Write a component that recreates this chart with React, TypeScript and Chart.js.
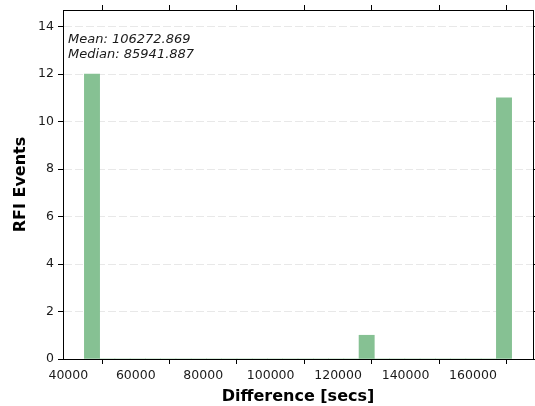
import { useEffect, useRef } from "react";
import { Chart, registerables } from "chart.js";

Chart.register(...registerables);

// Histogram bin edges (seconds) and counts per bin
const binEdges = [
  44750, 49276, 53801, 58327, 62852, 67378, 71903, 76429, 80954, 85480, 90005,
  94531, 99056, 103582, 108107, 112633, 117158, 121684, 126209, 130735, 135260,
  139786, 144311, 148837, 153362, 157888, 162413, 166939, 171464,
];
const binCounts = [
  12, 0, 0, 0, 0, 0, 0, 0, 0, 0, 0, 0, 0, 0, 0, 0, 0, 0, 1, 0, 0, 0, 0, 0, 0, 0,
  0, 11,
];

const xTicks = [40000, 60000, 80000, 100000, 120000, 140000, 160000];
const yTicks = [0, 2, 4, 6, 8, 10, 12, 14];
const xRange = [38414, 177801];
const yRange = [0, 14.7];

const xTitle = "Difference [secs]";
const yTitle = "RFI Events";
const statLines = ["Mean: 106272.869", "Median: 85941.887"];

const FONT = "'DejaVu Sans', sans-serif";

const statsPlugin = {
  id: "statsText",
  afterDraw(chart: any) {
    const { ctx, chartArea } = chart;
    ctx.save();
    ctx.font = `italic 13px ${FONT}`;
    ctx.fillStyle = "#1a1a1a";
    ctx.textBaseline = "middle";
    ctx.textAlign = "left";
    statLines.forEach((t, i) => {
      ctx.fillText(t, chartArea.left + 5, chartArea.top + 29.5 + i * 15);
    });
    ctx.restore();
  },
};

export default function App() {
  const ref = useRef<HTMLCanvasElement>(null);

  useEffect(() => {
    document.body.style.margin = "0";
    const canvas = ref.current!;
    const data = binCounts.map((c, i) => ({
      x: (binEdges[i] + binEdges[i + 1]) / 2,
      y: c,
    }));
    const setXTicks = (s: any) => {
      s.ticks = xTicks.map((v) => ({ value: v }));
    };
    const setYTicks = (s: any) => {
      s.ticks = yTicks.map((v) => ({ value: v }));
    };
    const chart = new Chart(canvas, {
      type: "bar",
      data: {
        datasets: [
          {
            data,
            xAxisID: "x",
            yAxisID: "y",
            backgroundColor: "rgb(134,193,147)",
            borderWidth: 0,
            categoryPercentage: 1,
            barPercentage: 1,
          },
        ],
      },
      options: {
        animation: false,
        responsive: false,
        devicePixelRatio: 1,
        layout: { padding: 0 },
        plugins: {
          legend: { display: false },
          tooltip: { enabled: false },
        },
        scales: {
          x: {
            type: "linear",
            position: "bottom",
            min: xRange[0],
            max: xRange[1],
            offset: false,
            z: 1,
            afterBuildTicks: setXTicks,
            afterFit: (s: any) => {
              s.height = 47;
              s.paddingLeft = 0;
              s.paddingRight = 0;
            },
            ticks: {
              font: { family: FONT, size: 12.5 },
              color: "#1a1a1a",
              padding: 4,
              maxRotation: 0,
              autoSkip: false,
              callback: (v: any) => String(v),
            },
            grid: {
              drawOnChartArea: false,
              drawTicks: true,
              tickLength: 5,
              tickColor: "#000",
              tickWidth: 1,
            },
            border: { display: true, color: "#000", width: 1 },
            title: {
              display: true,
              text: xTitle,
              font: { family: FONT, size: 16, weight: "bold" },
              color: "#000",
              padding: { top: 0, bottom: 0 },
            },
          },
          x2: {
            type: "linear",
            position: "top",
            min: xRange[0],
            max: xRange[1],
            offset: false,
            afterBuildTicks: setXTicks,
            afterFit: (s: any) => {
              s.height = 10;
            },
            ticks: { display: false },
            grid: {
              drawOnChartArea: false,
              drawTicks: true,
              tickLength: 5,
              tickColor: "#000",
              tickWidth: 1,
            },
            border: { display: true, color: "#000", width: 1 },
          },
          y: {
            type: "linear",
            position: "left",
            min: yRange[0],
            max: yRange[1],
            afterBuildTicks: setYTicks,
            afterFit: (s: any) => {
              s.width = 63;
              s.paddingTop = 0;
              s.paddingBottom = 0;
            },
            ticks: {
              font: { family: FONT, size: 12.5 },
              color: "#1a1a1a",
              padding: 4,
              callback: (v: any) => String(v),
            },
            grid: {
              color: "#e8e8e8",
              lineWidth: 1,
              drawTicks: true,
              tickLength: 5,
              tickColor: "#000",
              tickWidth: 1,
              tickBorderDash: [],
            },
            border: { display: true, color: "#000", width: 1, dash: [8, 3] },
            title: {
              display: true,
              text: yTitle,
              font: { family: FONT, size: 16, weight: "bold" },
              color: "#000",
              padding: { top: 11, bottom: 0 },
            },
          },
          y2: {
            type: "linear",
            position: "right",
            min: yRange[0],
            max: yRange[1],
            afterBuildTicks: setYTicks,
            afterFit: (s: any) => {
              s.width = 2;
            },
            ticks: { display: false },
            grid: {
              drawOnChartArea: false,
              drawTicks: true,
              tickLength: 5,
              tickColor: "#000",
              tickWidth: 1,
            },
            border: { display: true, color: "#000", width: 1 },
          },
        },
      } as any,
      plugins: [statsPlugin],
    });
    return () => chart.destroy();
  }, []);

  return (
    <div style={{ width: 535, height: 406 }}>
      <canvas
        ref={ref}
        width={535}
        height={406}
        style={{ display: "block", width: 535, height: 406 }}
      />
    </div>
  );
}
